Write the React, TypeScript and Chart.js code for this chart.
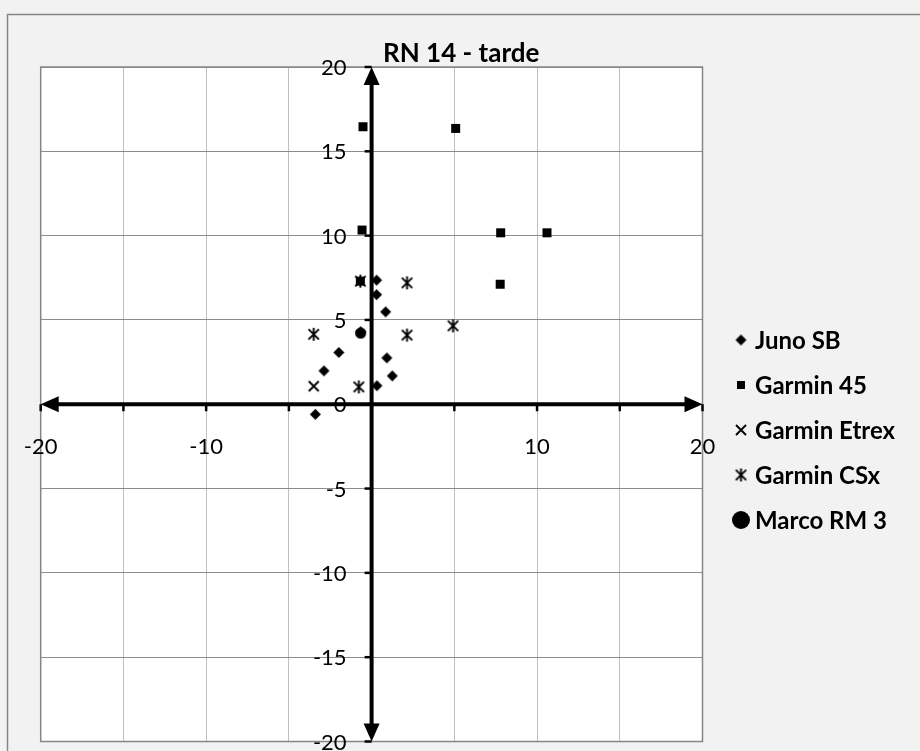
import React, { useEffect, useRef } from "react";
import { Chart, registerables } from "chart.js";
Chart.register(...registerables);

const chartTitle = "RN 14 - tarde";
const seriesNames = ["Juno SB", "Garmin 45", "Garmin Etrex", "Garmin CSx", "Marco RM 3"];

const junoX = [0.3, 0.3, 0.85, -1.98, -2.88, -3.4, 0.92, 1.25, 0.32, -0.66];
const junoY = [7.36, 6.5, 5.48, 3.07, 1.98, -0.6, 2.75, 1.68, 1.1, 4.3];
const garmin45X = [-0.52, 5.08, -0.58, 7.8, 10.6, 7.77, -0.68];
const garmin45Y = [16.46, 16.36, 10.33, 10.17, 10.17, 7.12, 7.3];
const etrexX = [-3.5];
const etrexY = [1.07];
const csxX = [-3.5, 2.14, 2.14, -0.77, 4.92, -0.68];
const csxY = [4.15, 7.2, 4.1, 1.03, 4.65, 7.3];
const marcoX = [-0.66];
const marcoY = [4.22];

const axisMin = -20;
const axisMax = 20;
const axisStep = 5;
const xTickLabels = [-20, -10, 10, 20];
const yTickLabels = [20, 15, 10, 5, 0, -5, -10, -15, -20];

type Kind = "diamond" | "square" | "x" | "star" | "circle";
const kinds: Kind[] = ["diamond", "square", "x", "star", "circle"];

function makeMarker(kind: Kind, size: number): HTMLCanvasElement {
  const c = document.createElement("canvas");
  const s = Math.ceil(size + 4);
  c.width = s;
  c.height = s;
  const g = c.getContext("2d")!;
  const m = s / 2;
  const h = size / 2;
  g.fillStyle = "#000";
  g.strokeStyle = "#000";
  g.lineWidth = 1.9;
  g.beginPath();
  if (kind === "diamond") {
    g.moveTo(m, m - h);
    g.lineTo(m + h, m);
    g.lineTo(m, m + h);
    g.lineTo(m - h, m);
    g.closePath();
    g.fill();
  } else if (kind === "square") {
    g.rect(m - h, m - h, size, size);
    g.fill();
  } else if (kind === "circle") {
    g.arc(m, m, h, 0, Math.PI * 2);
    g.fill();
  } else if (kind === "x") {
    g.moveTo(m - h, m - h);
    g.lineTo(m + h, m + h);
    g.moveTo(m + h, m - h);
    g.lineTo(m - h, m + h);
    g.stroke();
  } else {
    const d = h * 0.8;
    g.moveTo(m - d, m - d);
    g.lineTo(m + d, m + d);
    g.moveTo(m + d, m - d);
    g.lineTo(m - d, m + d);
    g.moveTo(m, m - h);
    g.lineTo(m, m + h);
    g.stroke();
  }
  return c;
}

const toPoints = (xs: number[], ys: number[]) => xs.map((x, i) => ({ x, y: ys[i] }));

export default function App() {
  const ref = useRef<HTMLCanvasElement | null>(null);

  useEffect(() => {
    const canvas = ref.current;
    if (!canvas) return;

    const plotMarkers = {
      diamond: makeMarker("diamond", 11),
      square: makeMarker("square", 9),
      x: makeMarker("x", 10),
      star: makeMarker("star", 13),
      circle: makeMarker("circle", 11),
    };
    const legendMarkers = {
      diamond: makeMarker("diamond", 11),
      square: makeMarker("square", 8),
      x: makeMarker("x", 10),
      star: makeMarker("star", 13),
      circle: makeMarker("circle", 18),
    };

    const seriesData = [
      toPoints(junoX, junoY),
      toPoints(garmin45X, garmin45Y),
      toPoints(etrexX, etrexY),
      toPoints(csxX, csxY),
      toPoints(marcoX, marcoY),
    ];

    const drawOrder = [4, 0, 1, 2, 3];
    const datasets = drawOrder.map((i) => ({
      label: seriesNames[i],
      data: seriesData[i],
      pointStyle: plotMarkers[kinds[i]],
      pointRadius: 6,
      showLine: false,
      backgroundColor: "#000",
      borderColor: "#000",
      order: 0,
    }));

    const frame = {
      id: "frame",
      beforeDraw(chart: any) {
        const { ctx, chartArea: a, width, height } = chart;
        ctx.save();
        ctx.fillStyle = "#f2f2f2";
        ctx.fillRect(0, 0, width, height);
        ctx.strokeStyle = "#868686";
        ctx.lineWidth = 1.5;
        ctx.strokeRect(7.5, 14.5, width + 20, height + 20);
        ctx.fillStyle = "#ffffff";
        ctx.fillRect(a.left, a.top, a.right - a.left, a.bottom - a.top);
        ctx.restore();
      },
      beforeDatasetsDraw(chart: any) {
        const { ctx, chartArea: a, scales } = chart;
        const xs = scales.x;
        const ys = scales.y;
        ctx.save();
        ctx.strokeStyle = "#868686";
        ctx.lineWidth = 1.5;
        ctx.strokeRect(a.left, a.top, a.right - a.left, a.bottom - a.top);

        const x0 = xs.getPixelForValue(0);
        const y0 = ys.getPixelForValue(0);
        ctx.fillStyle = "#000";
        ctx.strokeStyle = "#000";

        ctx.lineWidth = 2.5;
        for (let v = axisMin; v <= axisMax; v += axisStep) {
          const py = ys.getPixelForValue(v);
          ctx.beginPath();
          ctx.moveTo(x0 - 7, py);
          ctx.lineTo(x0, py);
          ctx.stroke();
          const px = xs.getPixelForValue(v);
          ctx.beginPath();
          ctx.moveTo(px, y0);
          ctx.lineTo(px, y0 + 7);
          ctx.stroke();
        }

        const al = 18;
        const aw = 8;
        ctx.lineWidth = 4;
        ctx.beginPath();
        ctx.moveTo(x0, a.top + al - 2);
        ctx.lineTo(x0, a.bottom - al + 2);
        ctx.moveTo(a.left + al - 2, y0);
        ctx.lineTo(a.right - al + 2, y0);
        ctx.stroke();
        const tri = (pts: number[][]) => {
          ctx.beginPath();
          ctx.moveTo(pts[0][0], pts[0][1]);
          ctx.lineTo(pts[1][0], pts[1][1]);
          ctx.lineTo(pts[2][0], pts[2][1]);
          ctx.closePath();
          ctx.fill();
        };
        tri([[x0, a.top], [x0 - aw, a.top + al], [x0 + aw, a.top + al]]);
        tri([[x0, a.bottom], [x0 - aw, a.bottom - al], [x0 + aw, a.bottom - al]]);
        tri([[a.left, y0], [a.left + al, y0 - aw], [a.left + al, y0 + aw]]);
        tri([[a.right, y0], [a.right - al, y0 - aw], [a.right - al, y0 + aw]]);

        ctx.font = "22px Lato";
        ctx.fillStyle = "#000";
        ctx.textAlign = "right";
        ctx.textBaseline = "middle";
        yTickLabels.forEach((v) => {
          ctx.fillText(String(v), x0 - 25, ys.getPixelForValue(v) + 1);
        });
        ctx.textAlign = "center";
        xTickLabels.forEach((v) => {
          ctx.fillText(String(v), xs.getPixelForValue(v), y0 + 43);
        });
        ctx.restore();
      },
      afterDraw(chart: any) {
        const { ctx } = chart;
        ctx.save();
        ctx.fillStyle = "#000";
        ctx.font = "bold 26px Lato";
        ctx.textAlign = "left";
        ctx.textBaseline = "middle";
        ctx.fillText(chartTitle, 383, 54);

        ctx.font = "bold 24px Lato";
        const ys0 = 340;
        const gap = 45;
        seriesNames.forEach((name, i) => {
          const y = ys0 + i * gap;
          const mk = legendMarkers[kinds[i]];
          ctx.drawImage(mk, 741 - mk.width / 2, y - mk.height / 2);
          ctx.fillText(name, 755, y + 1);
        });
        ctx.restore();
      },
    };

    const chart = new Chart(canvas, {
      type: "scatter",
      data: { datasets },
      options: {
        responsive: false,
        animation: false,
        devicePixelRatio: 1,
        layout: { padding: { left: 40.7, top: 67, right: 217.5, bottom: 9.5 } },
        plugins: { legend: { display: false }, title: { display: false }, tooltip: { enabled: false } },
        scales: {
          x: {
            type: "linear",
            min: axisMin,
            max: axisMax,
            ticks: { display: false, stepSize: axisStep },
            grid: { color: "#c0c0c0", lineWidth: 1, drawTicks: false },
            border: { display: false },
            afterFit: (s: any) => { s.height = 0; },
          },
          y: {
            type: "linear",
            min: axisMin,
            max: axisMax,
            ticks: { display: false, stepSize: axisStep },
            grid: { color: "#8c8c8c", lineWidth: 1, drawTicks: false },
            border: { display: false },
            afterFit: (s: any) => { s.width = 0; },
          },
        },
      },
      plugins: [frame],
    } as any);

    return () => chart.destroy();
  }, []);

  return (
    <div style={{ position: "absolute", left: 0, top: 0, width: 920, height: 751 }}>
      <canvas ref={ref} width={920} height={751} style={{ display: "block" }} />
    </div>
  );
}
